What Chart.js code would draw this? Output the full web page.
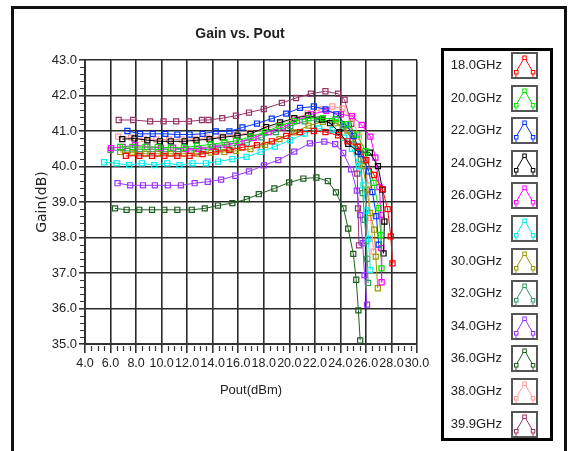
<!DOCTYPE html>
<html>
<head>
<meta charset="utf-8">
<script src="https://cdn.jsdelivr.net/npm/chart.js@4.4.1/dist/chart.umd.min.js"></script>
<style>
  html, body { margin: 0; padding: 0; background: #fff; overflow: hidden; }
  body { width: 569px; height: 451px; position: relative; }
  .bar { position: absolute; background: #111; }
  #chart { position: absolute; left: 0; top: 0; }
  #title {
    position: absolute; left: 140px; width: 200px; top: 25px; text-align: center;
    font: bold 14px "Liberation Sans", Arial, sans-serif; color: #222;
  }
  #legend-box {
    position: absolute; left: 441px; top: 48px; width: 112px; height: 393px;
    border: 3px solid #000; box-sizing: border-box;
  }
  .lg-text {
    position: absolute; width: 70px; text-align: right;
    font: 13px "Liberation Sans", Arial, sans-serif; color: #222;
  }
  .lg-icon {
    position: absolute; width: 27px; height: 27px; border: 2px solid #555; box-sizing: border-box; background: #fff;
  }
</style>
</head>
<body>
<div class="bar" style="left:11px;top:6px;width:556px;height:3px"></div>
<div class="bar" style="left:11px;top:6px;width:3px;height:445px"></div>
<div class="bar" style="left:564px;top:6px;width:3px;height:445px"></div>
<canvas id="chart" width="440" height="451"></canvas>
<div id="title">Gain vs. Pout</div>
<div id="legend-box"></div>
<div id="legend"></div>
<script>
const names = ["18.0GHz", "20.0GHz", "22.0GHz", "24.0GHz", "26.0GHz", "28.0GHz",
  "30.0GHz", "32.0GHz", "34.0GHz", "36.0GHz", "38.0GHz", "39.9GHz"];
const colors = ["#ff0000", "#00e600", "#0033ff", "#000000", "#ff00ff", "#00eeee",
  "#999900", "#339966", "#9933ff", "#1e5e1e", "#ff9999", "#993366"];

const xTicks = [4, 6, 8, 10, 12, 14, 16, 18, 20, 22, 24, 26, 28, 30];
const yTicks = [35, 36, 37, 38, 39, 40, 41, 42, 43];

// Pout (dBm) / Gain (dB) per frequency
const pout18 = [7.2, 8.25, 9.25, 10.21, 11.23, 12.19, 13.21, 14.24, 15.31, 16.33, 17.47, 18.63, 19.76, 20.84, 21.92, 22.83, 23.82, 24.55, 25.38, 26.03, 26.63, 27.3, 27.7, 27.95, 28.08];
const gain18 = [40.30, 40.30, 40.30, 40.30, 40.30, 40.30, 40.35, 40.42, 40.46, 40.54, 40.60, 40.71, 40.86, 40.97, 41.0, 40.97, 40.88, 40.71, 40.55, 40.18, 39.76, 39.36, 38.8, 38.03, 37.27];

const pout20 = [6.75, 7.71, 8.73, 9.7, 10.72, 11.74, 12.76, 13.84, 14.92, 15.82, 16.96, 18.1, 19.23, 20.36, 21.5, 22.63, 23.62, 24.55, 25.32, 25.97, 26.6, 27.0, 27.16, 27.22];
const gain20 = [40.55, 40.55, 40.55, 40.55, 40.53, 40.53, 40.58, 40.62, 40.68, 40.72, 40.84, 40.97, 41.14, 41.28, 41.36, 41.36, 41.33, 41.19, 40.90, 40.43, 39.54, 38.83, 38.07, 37.13];

const pout22 = [7.32, 8.31, 9.30, 10.29, 11.23, 12.19, 13.21, 14.24, 15.31, 16.33, 17.47, 18.63, 19.76, 20.84, 21.92, 22.83, 23.68, 24.41, 25.04, 25.6, 26.23, 26.51, 26.82, 27.0];
const gain22 = [41.0, 40.92, 40.92, 40.92, 40.90, 40.90, 40.92, 40.99, 40.99, 41.10, 41.21, 41.35, 41.49, 41.65, 41.69, 41.61, 41.47, 41.19, 40.86, 40.36, 39.86, 39.28, 38.6, 37.80];

const pout24 = [6.92, 7.88, 8.88, 9.87, 10.72, 11.80, 12.73, 13.75, 14.80, 15.94, 16.96, 18.18, 19.28, 20.39, 21.47, 22.54, 23.19, 23.90, 24.61, 25.38, 26.31, 26.94, 27.3, 27.45, 27.38];
const gain24 = [40.77, 40.79, 40.74, 40.71, 40.71, 40.71, 40.74, 40.77, 40.82, 40.87, 40.92, 41.11, 41.24, 41.36, 41.44, 41.32, 41.22, 40.97, 40.64, 40.42, 40.39, 40.01, 39.35, 38.45, 37.55];

const pout26 = [6.05, 6.95, 7.92, 8.88, 9.95, 10.9, 11.9, 12.9, 13.99, 15.1, 16.1, 17.2, 18.38, 19.5, 20.6, 21.7, 22.9, 24.04, 24.9, 25.67, 26.35, 26.74, 27.06, 27.17, 27.2, 27.23];
const gain26 = [40.52, 40.55, 40.6, 40.55, 40.53, 40.53, 40.49, 40.49, 40.55, 40.60, 40.69, 40.81, 40.97, 41.10, 41.29, 41.47, 41.57, 41.47, 41.42, 41.17, 40.84, 40.25, 39.42, 38.64, 37.7, 36.74];

const pout28 = [5.50, 6.47, 7.46, 8.45, 9.42, 10.44, 11.40, 12.42, 13.47, 14.43, 15.54, 16.65, 17.75, 18.86, 20.08, 21.21, 22.34, 23.39, 24.30, 24.90, 25.46, 25.80, 26.03, 26.20, 26.34];
const gain28 = [40.12, 40.09, 40.04, 40.09, 40.04, 40.09, 40.04, 40.09, 40.09, 40.14, 40.21, 40.27, 40.41, 40.56, 40.74, 40.93, 41.07, 41.03, 40.81, 40.50, 40.01, 39.47, 38.76, 37.96, 37.09];

const pout30 = [6.75, 7.71, 8.73, 9.7, 10.72, 11.74, 12.76, 13.84, 14.92, 15.82, 16.96, 18.1, 19.23, 20.36, 21.5, 22.63, 23.62, 24.55, 25.32, 25.75, 26.09, 26.31, 26.65, 26.77, 26.93];
const gain30 = [40.41, 40.39, 40.36, 40.36, 40.36, 40.36, 40.36, 40.39, 40.41, 40.44, 40.49, 40.61, 40.77, 40.96, 41.15, 41.26, 41.22, 41.01, 40.58, 40.01, 39.35, 38.69, 38.22, 37.46, 36.57];

const pout32 = [6.0, 7.32, 8.31, 9.3, 10.29, 11.29, 12.28, 13.27, 14.41, 15.54, 16.67, 17.81, 18.94, 20.08, 21.21, 22.34, 23.34, 24.19, 24.95, 25.6, 25.75, 25.9, 26.03, 26.1, 26.17];
const gain32 = [40.47, 40.44, 40.42, 40.42, 40.42, 40.42, 40.44, 40.47, 40.53, 40.58, 40.67, 40.82, 40.97, 41.14, 41.27, 41.33, 41.28, 41.12, 40.76, 40.2, 39.25, 38.5, 37.9, 37.4, 36.72];

const pout34 = [6.55, 7.54, 8.54, 9.47, 10.49, 11.51, 12.59, 13.61, 14.66, 15.77, 16.84, 18.01, 19.14, 20.39, 21.61, 22.74, 23.59, 24.22, 24.84, 25.29, 25.55, 25.75, 25.89, 26.09];
const gain34 = [39.53, 39.47, 39.47, 39.47, 39.47, 39.47, 39.53, 39.57, 39.63, 39.74, 39.86, 40.03, 40.18, 40.42, 40.65, 40.70, 40.63, 40.38, 39.92, 39.32, 38.63, 37.84, 36.94, 36.11];

const pout36 = [6.35, 7.26, 8.25, 9.25, 10.21, 11.23, 12.36, 13.38, 14.41, 15.54, 16.67, 17.61, 18.83, 19.99, 21.10, 22.12, 23.02, 23.65, 24.24, 24.61, 25.01, 25.24, 25.41, 25.55];
const gain36 = [38.82, 38.78, 38.78, 38.78, 38.78, 38.78, 38.78, 38.82, 38.90, 38.97, 39.08, 39.22, 39.38, 39.55, 39.66, 39.69, 39.59, 39.27, 38.82, 38.25, 37.54, 36.81, 35.95, 35.10];

const pout38 = [6.6, 7.6, 8.6, 9.59, 10.58, 11.57, 12.62, 13.58, 14.69, 15.77, 16.90, 18.04, 19.17, 20.30, 21.44, 22.52, 23.37, 24.16, 24.90, 25.46, 25.89, 26.17, 26.37, 26.6];
const gain38 = [40.84, 40.82, 40.78, 40.76, 40.76, 40.76, 40.78, 40.81, 40.84, 40.89, 40.95, 41.05, 41.17, 41.34, 41.50, 41.61, 41.69, 41.63, 41.36, 40.84, 40.20, 39.46, 38.55, 37.6];

const pout39 = [6.64, 7.77, 9.10, 10.15, 11.14, 12.14, 13.16, 13.67, 14.75, 15.82, 16.84, 18.0, 19.42, 20.53, 21.69, 22.83, 23.82, 24.33, 24.86, 25.32, 25.38, 25.46];
const gain39 = [41.31, 41.31, 41.27, 41.27, 41.27, 41.27, 41.31, 41.31, 41.36, 41.43, 41.52, 41.62, 41.79, 41.93, 42.05, 42.12, 42.05, 41.88, 41.2, 39.80, 38.82, 37.78];

const pouts = [pout18, pout20, pout22, pout24, pout26, pout28, pout30, pout32, pout34, pout36, pout38, pout39];
const gains = [gain18, gain20, gain22, gain24, gain26, gain28, gain30, gain32, gain34, gain36, gain38, gain39];

const FONT = "'Liberation Sans', Arial, sans-serif";
const TEXT = "#222";

// legend on the right, drawn as html
const legend = document.querySelector("#legend");
names.forEach((name, i) => {
  const top = 52 + i * 32.6;
  const label = document.createElement("div");
  label.className = "lg-text";
  label.style.left = "432px";
  label.style.top = (top + 5) + "px";
  label.textContent = name;
  legend.appendChild(label);

  const icon = document.createElement("div");
  icon.className = "lg-icon";
  icon.style.left = "511px";
  icon.style.top = top + "px";
  const c = colors[i];
  icon.innerHTML =
    `<svg width="23" height="23" style="display:block">
      <polyline points="3,23 3,18 11.5,3.5 20,18 20,23" fill="none" stroke="${c}" stroke-width="1"/>
      <rect x="1.5" y="16.5" width="3.5" height="3.5" fill="#fff" stroke="${c}"/>
      <rect x="9.8" y="2" width="3.5" height="3.5" fill="#fff" stroke="${c}"/>
      <rect x="18.3" y="16.5" width="3.5" height="3.5" fill="#fff" stroke="${c}"/>
    </svg>`;
  legend.appendChild(icon);
});

// small ticks between the labelled ones
const minorTicks = {
  id: "minorTicks",
  afterDraw(chart) {
    const { ctx, chartArea, scales } = chart;
    ctx.save();
    ctx.strokeStyle = "#333";
    ctx.lineWidth = 1.2;
    ctx.beginPath();
    for (let v = xTicks[0]; v < xTicks[xTicks.length - 1]; v += 0.5) {
      if (v % 2 === 0) continue;
      const px = Math.round(scales.x.getPixelForValue(v)) + 0.5;
      ctx.moveTo(px, chartArea.bottom + 2);
      ctx.lineTo(px, chartArea.bottom + 7);
    }
    for (let i = 0; i < (yTicks.length - 1) * 5; i++) {
      if (i % 5 === 0) continue;
      const py = Math.round(scales.y.getPixelForValue(yTicks[0] + i * 0.2)) + 0.5;
      ctx.moveTo(chartArea.left - 5, py);
      ctx.lineTo(chartArea.left - 1, py);
    }
    ctx.stroke();
    ctx.restore();
  },
};

const datasets = names.map((name, i) => ({
  label: name,
  data: pouts[i].map((x, k) => ({ x, y: gains[i][k] })),
  borderColor: colors[i],
  backgroundColor: colors[i],
  borderWidth: 1,
  pointStyle: "rect",
  pointRadius: 3.6,
  pointBorderWidth: 1.2,
  pointBackgroundColor: "rgba(255,255,255,0)",
  pointBorderColor: colors[i],
  tension: 0,
}));

new Chart(document.querySelector("#chart"), {
  type: "line",
  data: { datasets },
  options: {
    responsive: false,
    animation: false,
    layout: { padding: { top: 60, right: 23, left: 0, bottom: 0 } },
    plugins: {
      legend: { display: false },
      title: { display: false },
      tooltip: { enabled: false },
    },
    scales: {
      x: {
        type: "linear",
        min: xTicks[0],
        max: xTicks[xTicks.length - 1],
        afterFit: (scale) => { scale.height = 107; },
        afterBuildTicks: (scale) => { scale.ticks = xTicks.map((v) => ({ value: v })); },
        ticks: {
          callback: (v) => v.toFixed(1),
          font: { family: FONT, size: 12.5 },
          color: TEXT,
          padding: 3,
          autoSkip: false,
          maxRotation: 0,
          minRotation: 0,
        },
        grid: { color: "#2a2a2a", lineWidth: 1.6, tickLength: 9, tickColor: "#333" },
        border: { color: "#333", width: 2 },
        title: {
          display: true,
          text: "Pout(dBm)",
          font: { family: FONT, size: 13 },
          color: TEXT,
          padding: { top: 0, bottom: 53 },
        },
      },
      y: {
        type: "linear",
        min: yTicks[0],
        max: yTicks[yTicks.length - 1],
        afterFit: (scale) => { scale.width = 85; },
        afterBuildTicks: (scale) => { scale.ticks = yTicks.map((v) => ({ value: v })); },
        ticks: {
          callback: (v) => v.toFixed(1),
          font: { family: FONT, size: 13 },
          color: TEXT,
          padding: 2,
        },
        grid: { color: "#2a2a2a", lineWidth: 1.6, tickLength: 6, tickColor: "#333" },
        border: { color: "#333", width: 2 },
        title: {
          display: true,
          text: "Gain(dB)",
          font: { family: "'DejaVu Sans', sans-serif", size: 14 },
          color: TEXT,
          padding: { top: 34, bottom: 0 },
        },
      },
    },
  },
  plugins: [minorTicks],
});
</script>
</body>
</html>
